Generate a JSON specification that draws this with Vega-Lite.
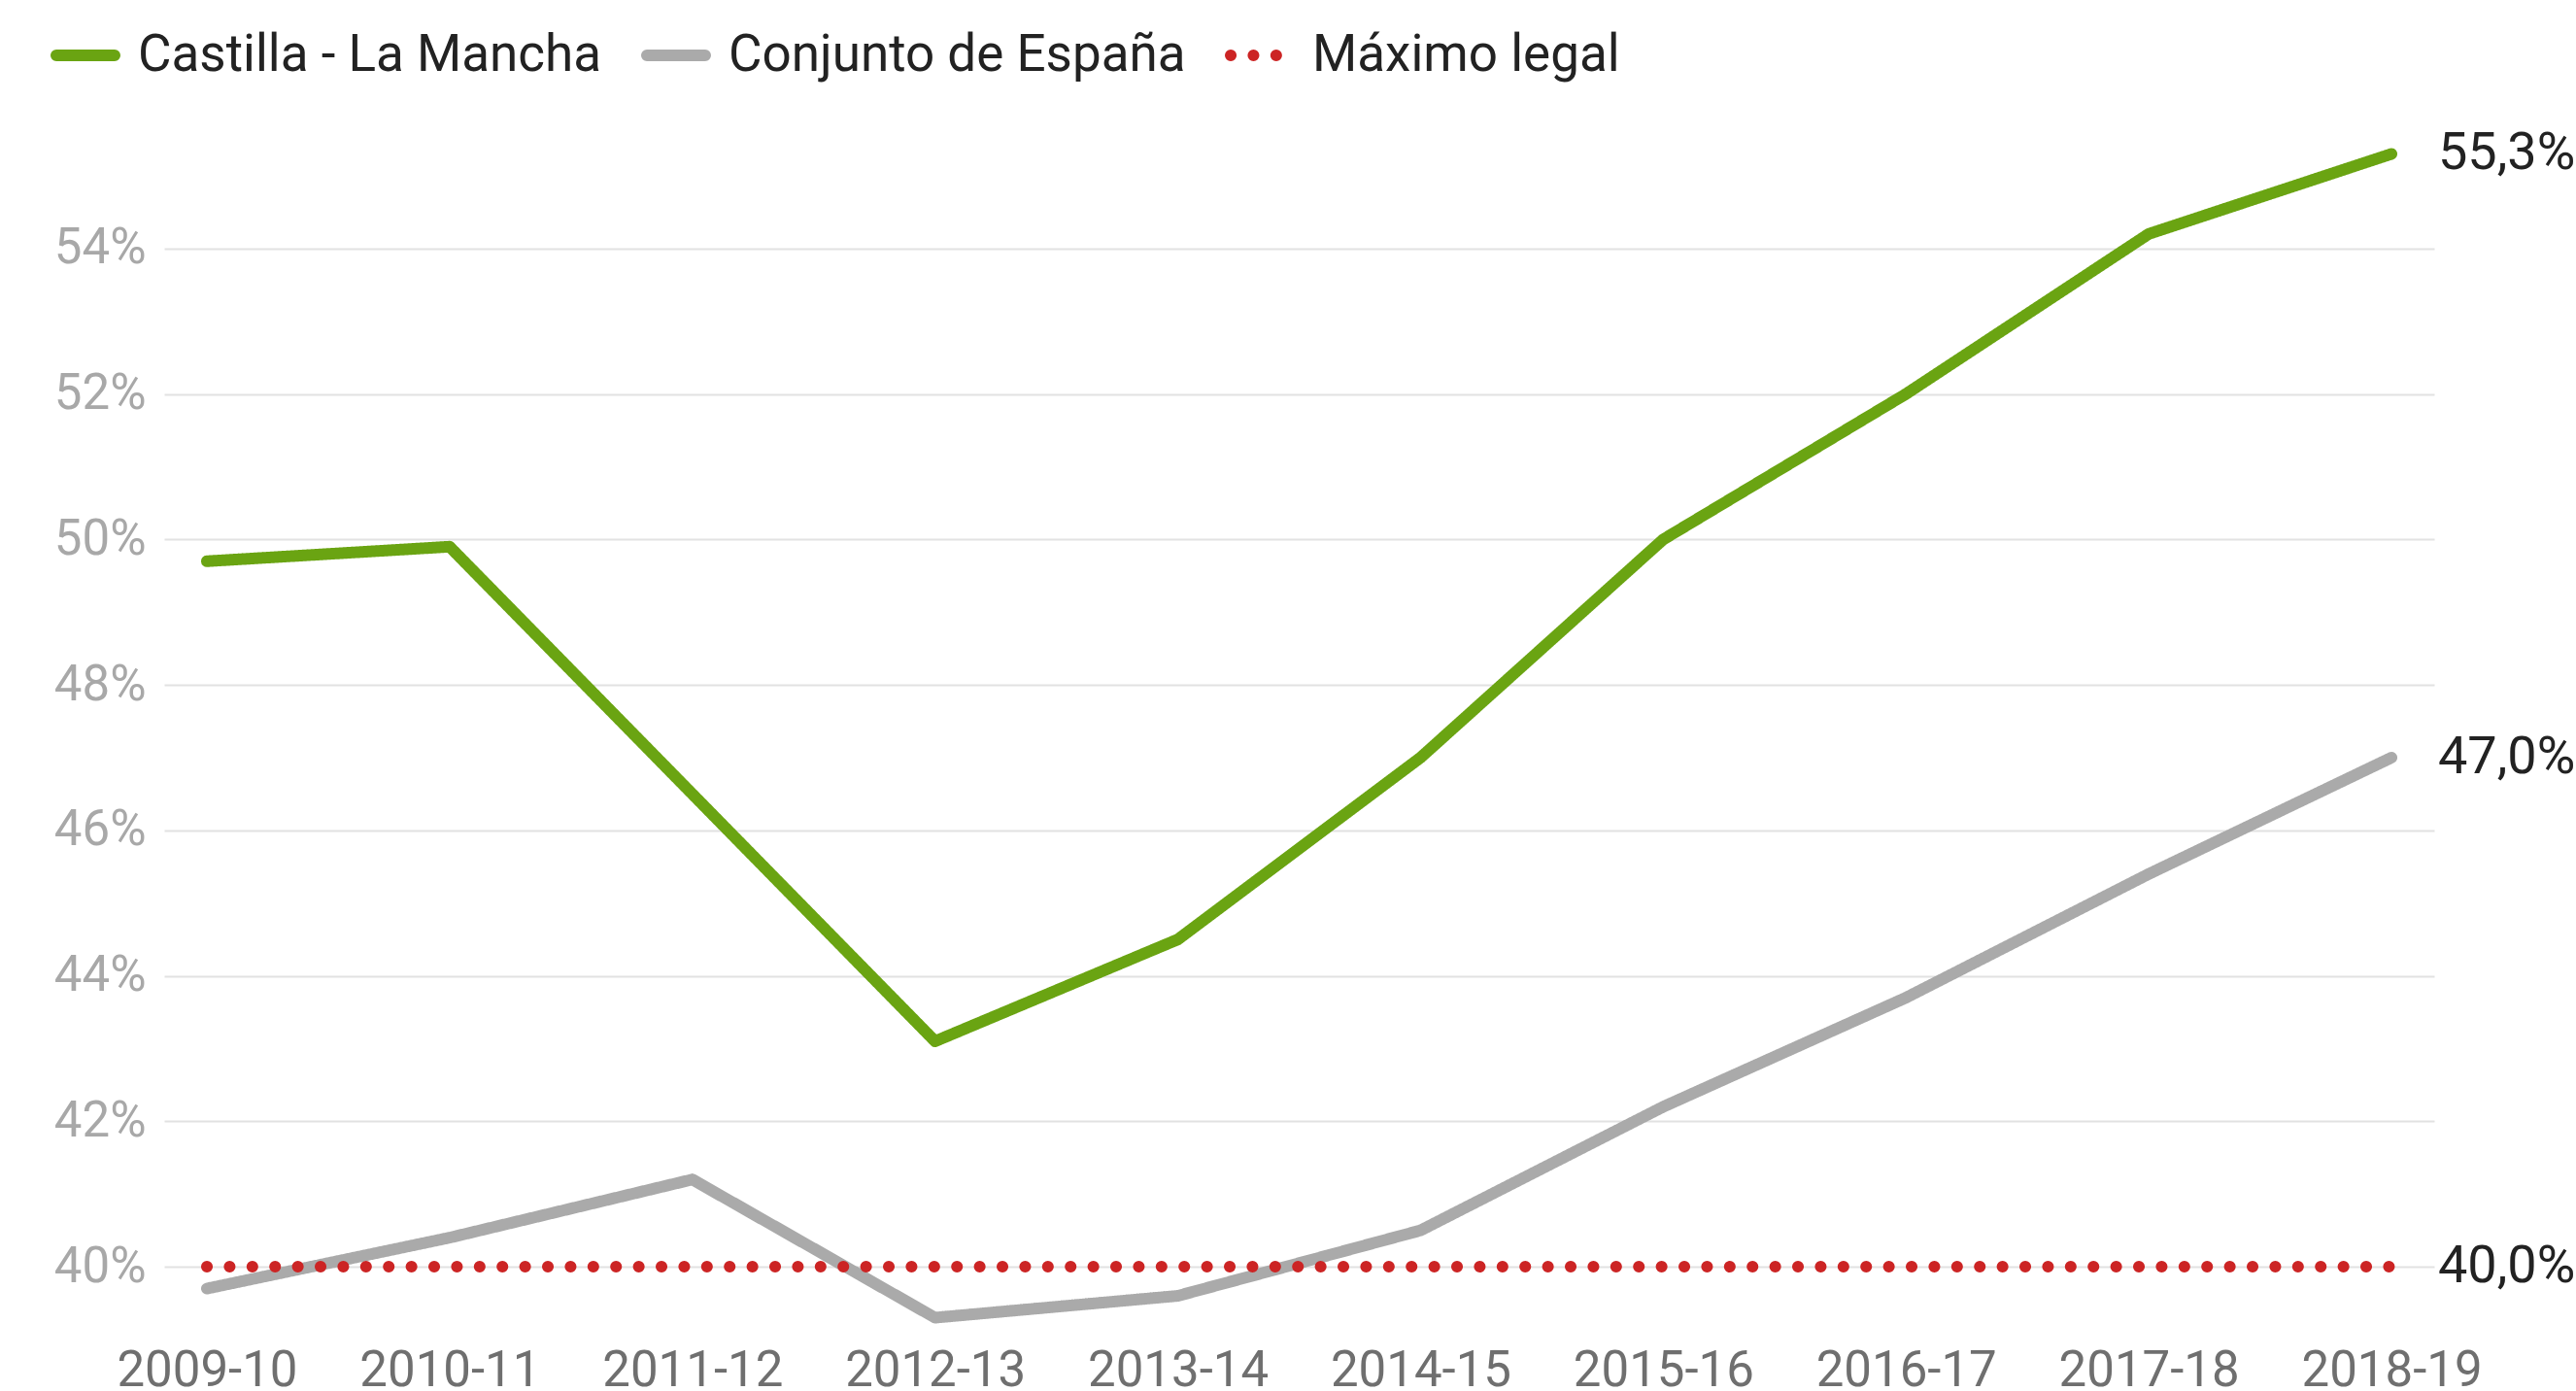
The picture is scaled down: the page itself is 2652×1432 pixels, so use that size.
{
  "$schema": "https://vega.github.io/schema/vega-lite/v6.json",
  "width": 2337,
  "height": 1228,
  "autosize": {"type": "none"},
  "padding": {"left": 169, "top": 136, "right": 146, "bottom": 68},
  "background": "white",
  "config": {
    "font": "Roboto",
    "view": {"stroke": null},
    "locale": {"number": {"decimal": ",", "thousands": ".", "grouping": [3], "currency": ["", " €"]}}
  },
  "data": {
    "values": [
      {"season": "2009-10", "series": "Castilla - La Mancha", "value": 0.497},
      {"season": "2010-11", "series": "Castilla - La Mancha", "value": 0.499},
      {"season": "2011-12", "series": "Castilla - La Mancha", "value": 0.465},
      {"season": "2012-13", "series": "Castilla - La Mancha", "value": 0.431},
      {"season": "2013-14", "series": "Castilla - La Mancha", "value": 0.445},
      {"season": "2014-15", "series": "Castilla - La Mancha", "value": 0.470},
      {"season": "2015-16", "series": "Castilla - La Mancha", "value": 0.500},
      {"season": "2016-17", "series": "Castilla - La Mancha", "value": 0.520},
      {"season": "2017-18", "series": "Castilla - La Mancha", "value": 0.542},
      {"season": "2018-19", "series": "Castilla - La Mancha", "value": 0.553},
      {"season": "2009-10", "series": "Conjunto de España", "value": 0.397},
      {"season": "2010-11", "series": "Conjunto de España", "value": 0.404},
      {"season": "2011-12", "series": "Conjunto de España", "value": 0.412},
      {"season": "2012-13", "series": "Conjunto de España", "value": 0.393},
      {"season": "2013-14", "series": "Conjunto de España", "value": 0.396},
      {"season": "2014-15", "series": "Conjunto de España", "value": 0.405},
      {"season": "2015-16", "series": "Conjunto de España", "value": 0.422},
      {"season": "2016-17", "series": "Conjunto de España", "value": 0.437},
      {"season": "2017-18", "series": "Conjunto de España", "value": 0.454},
      {"season": "2018-19", "series": "Conjunto de España", "value": 0.470},
      {"season": "2009-10", "series": "Máximo legal", "value": 0.40},
      {"season": "2010-11", "series": "Máximo legal", "value": 0.40},
      {"season": "2011-12", "series": "Máximo legal", "value": 0.40},
      {"season": "2012-13", "series": "Máximo legal", "value": 0.40},
      {"season": "2013-14", "series": "Máximo legal", "value": 0.40},
      {"season": "2014-15", "series": "Máximo legal", "value": 0.40},
      {"season": "2015-16", "series": "Máximo legal", "value": 0.40},
      {"season": "2016-17", "series": "Máximo legal", "value": 0.40},
      {"season": "2017-18", "series": "Máximo legal", "value": 0.40},
      {"season": "2018-19", "series": "Máximo legal", "value": 0.40}
    ]
  },
  "encoding": {
    "x": {
      "field": "season", "type": "ordinal", "title": null,
      "scale": {"type": "point", "padding": 0.176},
      "axis": {"labelAngle": 0, "domain": false, "ticks": false, "grid": false, "labelFontSize": 51, "labelColor": "#6f6f6f", "labelPadding": 22, "labelLimit": 0}
    },
    "y": {
      "field": "value", "type": "quantitative", "title": null,
      "scale": {"domain": [0.392, 0.556], "nice": false, "zero": false},
      "axis": {"values": [0.40, 0.42, 0.44, 0.46, 0.48, 0.50, 0.52, 0.54], "format": ".0%", "domain": false, "ticks": false, "grid": true, "gridColor": "#e2e2e2", "gridWidth": 2, "labelFontSize": 51, "labelColor": "#a8a8a8", "labelPadding": 19}
    }
  },
  "layer": [
    {
      "mark": {"type": "line", "strokeCap": "round", "strokeJoin": "round"},
      "encoding": {
        "color": {
          "field": "series", "type": "nominal", "title": null,
          "scale": {"domain": ["Castilla - La Mancha", "Conjunto de España", "Máximo legal"], "range": ["#6aa412", "#aaaaaa", "#cc2424"]},
          "legend": {
            "orient": "none", "direction": "horizontal", "legendX": -117, "legendY": -115,
            "symbolType": "stroke", "symbolSize": 3600,
            "labelFontSize": 53, "labelColor": "#222222", "labelOffset": 18, "columnPadding": 22, "labelLimit": 0,
            "encode": {"symbols": {"update": {"strokeCap": {"value": "round"}}}}
          }
        },
        "strokeDash": {
          "field": "series", "type": "nominal", "title": null,
          "scale": {"domain": ["Castilla - La Mancha", "Conjunto de España", "Máximo legal"], "range": [[1, 0], [1, 0], [0.1, 23.3]]},
          "legend": {
            "orient": "none", "direction": "horizontal", "legendX": -117, "legendY": -115,
            "symbolType": "stroke", "symbolSize": 3600,
            "labelFontSize": 53, "labelColor": "#222222", "labelOffset": 18, "columnPadding": 22, "labelLimit": 0,
            "encode": {"symbols": {"update": {"strokeCap": {"value": "round"}}}}
          }
        },
        "strokeWidth": {
          "field": "series", "type": "nominal", "title": null,
          "scale": {"domain": ["Castilla - La Mancha", "Conjunto de España", "Máximo legal"], "range": [12, 12, 13]},
          "legend": {
            "orient": "none", "direction": "horizontal", "legendX": -117, "legendY": -115,
            "symbolType": "stroke", "symbolSize": 3600,
            "labelFontSize": 53, "labelColor": "#222222", "labelOffset": 18, "columnPadding": 22, "labelLimit": 0,
            "encode": {"symbols": {"update": {"strokeCap": {"value": "round"}}}}
          }
        }
      }
    },
    {
      "transform": [{"filter": "datum.season == '2018-19'"}],
      "mark": {"type": "text", "align": "left", "baseline": "middle", "dx": 48, "fontSize": 54, "color": "#222222"},
      "encoding": {
        "text": {"field": "value", "type": "quantitative", "format": ".1%"}
      }
    }
  ]
}
